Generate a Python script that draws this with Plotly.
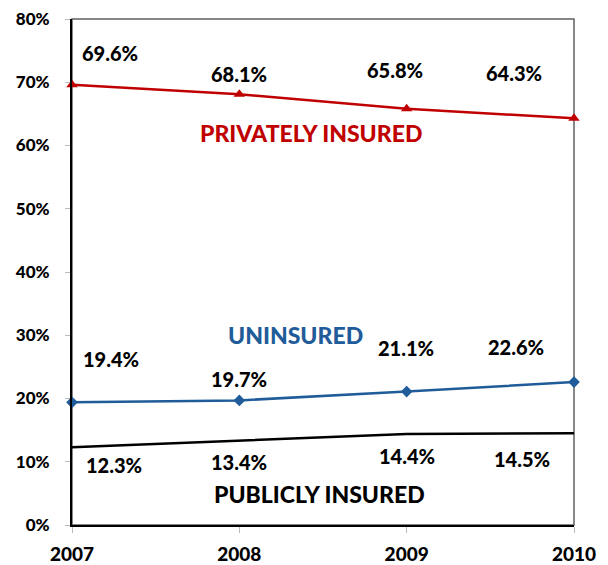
import plotly.graph_objects as go

years = [2007, 2008, 2009, 2010]
privately_insured = [69.6, 68.1, 65.8, 64.3]
uninsured = [19.4, 19.7, 21.1, 22.6]
publicly_insured = [12.3, 13.4, 14.4, 14.5]
y_ticks = [0, 10, 20, 30, 40, 50, 60, 70, 80]

RED = "#C00000"
BLUE = "#1F5C99"
FONT = "Lato"
W = 900  # heavy weight like the original

fig = go.Figure()
fig.add_trace(go.Scatter(x=years, y=privately_insured, mode="lines+markers",
                         line=dict(color=RED, width=2.5), cliponaxis=False,
                         marker=dict(symbol="triangle-up", size=10, color=RED)))
fig.add_trace(go.Scatter(x=years, y=uninsured, mode="lines+markers",
                         line=dict(color=BLUE, width=2.5), cliponaxis=False,
                         marker=dict(symbol="diamond", size=9, color=BLUE)))
fig.add_trace(go.Scatter(x=years, y=publicly_insured, mode="lines",
                         line=dict(color="black", width=2.5)))

# value labels: pixel offsets from each point
label_offsets = {
    "private": [(38, 32), (0, 20), (-12, 39), (-60, 45)],
    "uninsured": [(39, 43), (0, 21), (-1, 44), (-58, 35)],
    "public": [(42, -18), (0, -22), (0, -22), (-52, -26)],
}
series = {"private": privately_insured, "uninsured": uninsured, "public": publicly_insured}
for key, vals in series.items():
    for yr, v, (dx, dy) in zip(years, vals, label_offsets[key]):
        fig.add_annotation(x=yr, y=v, text=f"{v:.1f}%", showarrow=False,
                           xshift=dx, yshift=dy, xanchor="center", yanchor="middle",
                           font=dict(family=FONT, size=20, color="black", weight=W))

# series names
names = [("PRIVATELY INSURED", RED, 311, 132.5),
         ("UNINSURED", BLUE, 296, 335),
         ("PUBLICLY INSURED", "black", 320, 493.5)]
for text, color, px, py in names:
    fig.add_annotation(xref="paper", yref="paper", x=(px - 72.5) / 501, y=(525 - py) / 506,
                       xanchor="center", yanchor="middle", text=text, showarrow=False,
                       font=dict(family=FONT, size=23, color=color, weight=W))

# gray frame for top/right
fig.add_shape(type="rect", xref="paper", yref="paper", x0=0, y0=0, x1=1, y1=1,
              line=dict(color="#606060", width=1.5), layer="below")

# page body has an 8px margin, so the figure is sized/offset to compensate
fig.update_layout(
    width=600, height=557,
    margin=dict(l=64, r=34, t=11, b=40),
    plot_bgcolor="white", paper_bgcolor="white",
    showlegend=False,
    font=dict(family=FONT, color="black"),
)
fig.update_xaxes(range=[2007, 2010], tickvals=years, ticktext=[str(y) for y in years],
                 showgrid=False, zeroline=False, showline=True, linecolor="black", linewidth=2,
                 ticks="outside", ticklen=6, tickcolor="#BBBBBB", tickwidth=1, automargin=False,
                 ticklabeloverflow="allow",
                 tickfont=dict(family=FONT, size=19, weight=W), ticklabelstandoff=5)
fig.update_yaxes(range=[0, 80], tickvals=y_ticks, ticktext=[f"{t}%" for t in y_ticks],
                 showgrid=False, zeroline=False, showline=True, linecolor="black", linewidth=2,
                 ticks="outside", ticklen=5, tickcolor="#BBBBBB", tickwidth=1, automargin=False,
                 ticklabeloverflow="allow",
                 tickfont=dict(family=FONT, size=17, weight=W), ticklabelstandoff=12)

fig.write_html("out.html")
